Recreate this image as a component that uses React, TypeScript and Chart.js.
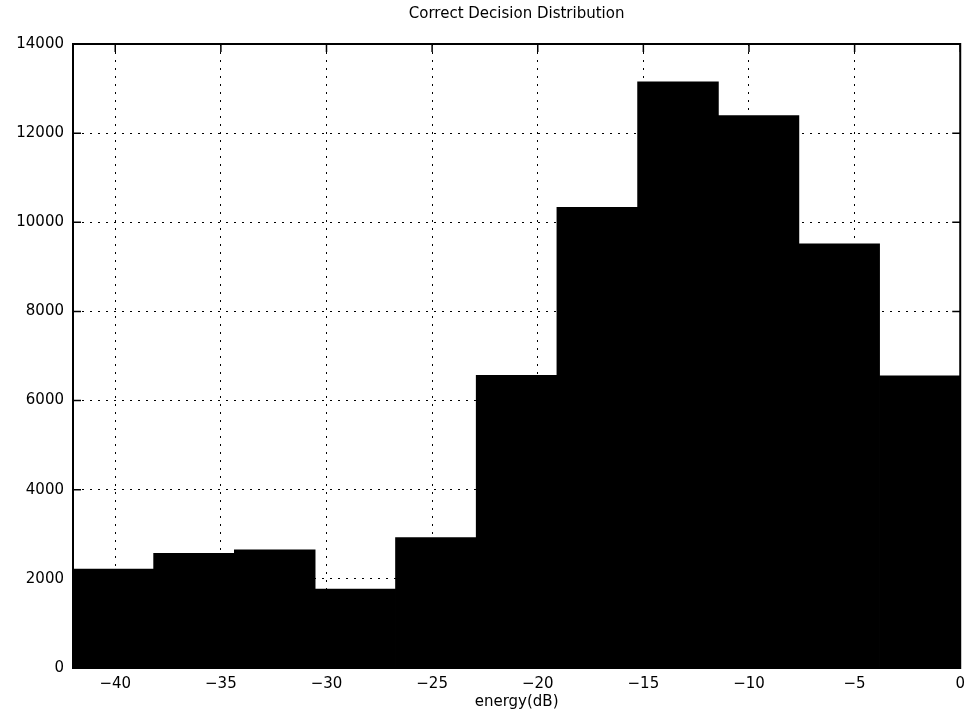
import React, { useEffect, useRef } from 'react';
import { Chart, registerables } from 'chart.js';

Chart.register(...registerables);

// Histogram bin centres (dB) and counts
const binCenters = [-40.09, -36.27, -32.45, -28.64, -24.82, -21.0, -17.18, -13.36, -9.55, -5.73, -1.91];
const counts = [2215, 2570, 2650, 1765, 2925, 6565, 10330, 13150, 12390, 9515, 6550];
const xTicks = [-40, -35, -30, -25, -20, -15, -10, -5, 0];
const yTicks = [0, 2000, 4000, 6000, 8000, 10000, 12000, 14000];
const chartTitle = 'Correct Decision Distribution';
const xLabel = 'energy(dB)';

const boxPlugin = {
  id: 'matlabBox',
  afterDatasetsDraw(chart: any) {
    const { ctx, chartArea, scales } = chart;
    const { left, right, top, bottom } = chartArea;
    ctx.save();
    ctx.strokeStyle = '#000';
    ctx.lineWidth = 2;
    ctx.strokeRect(left, top, right - left, bottom - top);
    ctx.lineWidth = 1.5;
    const L = 8;
    ctx.beginPath();
    for (const v of xTicks) {
      const px = scales.x.getPixelForValue(v);
      ctx.moveTo(px, top);
      ctx.lineTo(px, top + L);
    }
    for (const v of yTicks) {
      const py = scales.y.getPixelForValue(v);
      ctx.moveTo(left, py);
      ctx.lineTo(left + L, py);
      ctx.moveTo(right, py);
      ctx.lineTo(right - L, py);
    }
    ctx.stroke();
    // title centred over the plot area
    ctx.fillStyle = '#000';
    ctx.font = '15px "DejaVu Sans"';
    ctx.textAlign = 'center';
    ctx.textBaseline = 'middle';
    ctx.fillText(chartTitle, (left + right) / 2, 14);
    ctx.restore();
  },
};

const fmt = (v: number) => (v < 0 ? '\u2212' + Math.abs(v) : String(v));

export default function App() {
  const ref = useRef<HTMLCanvasElement>(null);

  useEffect(() => {
    if (!ref.current) return;
    const chart = new Chart(ref.current, {
      type: 'bar',
      data: {
        datasets: [
          {
            data: binCenters.map((x, i) => ({ x, y: counts[i] })),
            backgroundColor: '#000',
            borderWidth: 0,
            inflateAmount: 0.5,
            barPercentage: 1,
            categoryPercentage: 1,
          } as any,
        ],
      },
      options: {
        animation: false,
        responsive: false,
        maintainAspectRatio: false,
        layout: { padding: { left: 0, right: 10, top: 44, bottom: 0 } },
        plugins: {
          legend: { display: false },
          tooltip: { enabled: false },
          title: { display: false },
        },
        scales: {
          x: {
            type: 'linear',
            min: -42,
            max: 0,
            offset: false,
            afterBuildTicks: (scale: any) => {
              scale.ticks = xTicks.map((v) => ({ value: v }));
            },
            afterFit: (scale: any) => {
              scale.height = 43;
            },
            grid: {
              offset: false,
              drawTicks: false,
              color: '#000',
              lineWidth: 1,
            } as any,
            border: { display: true, color: '#000', width: 2, dash: [2, 6] } as any,
            ticks: {
              color: '#000',
              font: { family: 'DejaVu Sans', size: 15 },
              padding: 7,
              maxRotation: 0,
              callback: (v: any) => fmt(Number(v)),
            },
            title: {
              display: true,
              text: xLabel,
              color: '#000',
              font: { family: 'DejaVu Sans', size: 15 },
              padding: { top: 0, bottom: 0 },
            },
          },
          y: {
            type: 'linear',
            min: 0,
            max: 14000,
            afterBuildTicks: (scale: any) => {
              scale.ticks = yTicks.map((v) => ({ value: v }));
            },
            afterFit: (scale: any) => {
              scale.width = 73;
            },
            grid: {
              drawTicks: false,
              color: '#000',
              lineWidth: 1,
            } as any,
            border: { display: true, color: '#000', width: 2, dash: [2, 6] } as any,
            ticks: {
              color: '#000',
              font: { family: 'DejaVu Sans', size: 15 },
              padding: 9,
              callback: (v: any) => fmt(Number(v)),
            },
          },
        },
      } as any,
      plugins: [boxPlugin],
    });
    return () => chart.destroy();
  }, []);

  return (
    <div style={{ position: 'fixed', left: 0, top: 0, width: 972, height: 711, background: '#fff' }}>
      <canvas ref={ref} width={972} height={711} style={{ display: 'block', width: 972, height: 711 }} />
    </div>
  );
}
